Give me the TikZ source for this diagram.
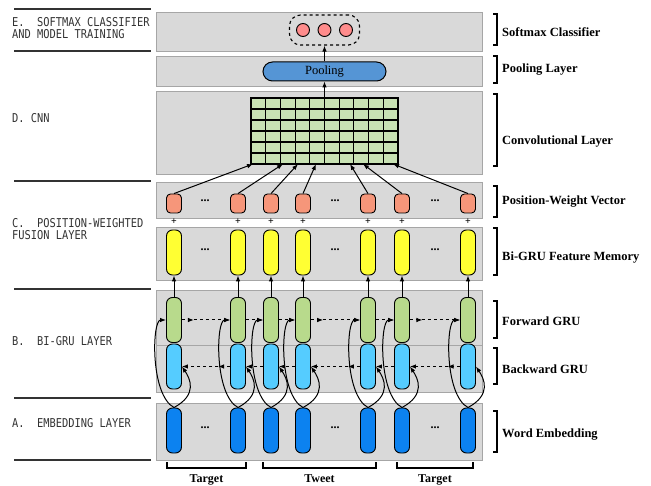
\documentclass[tikz,border=0pt]{standalone}
\usepackage{fontspec}
\setmainfont{Liberation Serif}
\newfontfamily\layerfont[FakeStretch=0.85]{DejaVu Sans Mono}
\usetikzlibrary{arrows.meta, decorations.markings}

\begin{document}
\begin{tikzpicture}[x=1pt, y=-1pt, >={Latex[length=6pt,width=4.5pt]},
    band/.style={draw=black!35, fill=bandgray, line width=0.7pt},
    cell/.style={draw, line width=0.9pt, rounded corners=6pt, minimum width=15pt, minimum height=45pt, inner sep=0pt},
    wcell/.style={draw, line width=0.9pt, rounded corners=4pt, minimum width=15pt, minimum height=19pt, inner sep=0pt},
    plus/.style={font=\bfseries\fontsize{10}{10}\selectfont, inner sep=0pt},
    gapdots/.style={font=\bfseries\fontsize{12}{12}\selectfont, inner sep=0pt},
    rlabel/.style={anchor=west, font=\bfseries\fontsize{12.5}{14}\selectfont, inner sep=0pt},
    llabel/.style={anchor=north west, align=left, text=black!80, font=\layerfont\fontsize{12.2}{12}\selectfont, inner sep=0pt},
    bracket/.style={line width=1.2pt},
    sepline/.style={line width=1.3pt, black!80},
    link/.style={->, line width=1pt},
    fwd/.style={->, dashed, line width=1pt},
    fwdgap/.style={fwd, postaction={decorate, decoration={markings, mark=at position 0.25 with {\arrow{>}}}}}]
    % Màu
    \definecolor{bandgray}{RGB}{217,217,217}
    \definecolor{softpink}{RGB}{255,140,140}
    \definecolor{poolblue}{RGB}{85,149,213}
    \definecolor{gridgreen}{RGB}{200,226,180}
    \definecolor{wsalmon}{RGB}{246,150,122}
    \definecolor{memyellow}{RGB}{255,255,51}
    \definecolor{fwdgreen}{RGB}{184,218,140}
    \definecolor{bwdblue}{RGB}{85,204,255}
    \definecolor{embblue}{RGB}{12,130,240}

    \useasboundingbox (0,0) rectangle (651,486);

    % 1. Các dải nền
    \draw[band] (156,12) rectangle (482,51);
    \draw[band] (156,56) rectangle (482,86);
    \draw[band] (156,91) rectangle (482,174);
    \draw[band] (156,182) rectangle (482,218);
    \draw[band] (156,227) rectangle (482,280);
    \draw[band] (156,290) rectangle (482,345);
    \draw[band] (156,345) rectangle (482,392);
    \draw[band] (156,403) rectangle (482,460);

    % 2. Nhãn bên trái
    \foreach \y in {9,51,181,289,398,460}
        \draw[sepline] (14,\y) -- (151,\y);
    \node[llabel] (labE) at (12,17) {E.~~SOFTMAX CLASSIFIER\\AND MODEL TRAINING};
    \node[llabel] (labD) at (12,113.5) {D.~CNN};
    \node[llabel] (labC) at (12,218.5) {C.~~POSITION-WEIGHTED\\FUSION LAYER};
    \node[llabel] (labB) at (12,336.5) {B.~~BI-GRU LAYER};
    \node[llabel] (labA) at (12,418.5) {A.~~EMBEDDING LAYER};

    % 3. Các cột
    \foreach \i/\c in {1/174,2/238,3/271,4/303,5/368,6/402,7/468} {
        \node[cell, fill=embblue] (e\i) at (\c,430.5) {};
        \node[cell, fill=bwdblue] (b\i) at (\c,366.5) {};
        \node[cell, fill=fwdgreen] (f\i) at (\c,320) {};
        \node[cell, fill=memyellow] (m\i) at (\c,252.5) {};
        \node[wcell, fill=wsalmon] (w\i) at (\c,203.5) {};
        \node[plus] (p\i) at (\c,222) {+};
    }
    \foreach \k/\x in {1/205,2/335,3/435} {
        \node[gapdots] (dw\k) at (\x,201) {...};
        \node[gapdots] (dm\k) at (\x,250) {...};
        \node[gapdots] (de\k) at (\x,428) {...};
    }

    % 4. Kết nối Bi-GRU
    \foreach \i in {1,...,7} {
        \draw[link] (e\i.north) .. controls +(-24,-13) and +(-14,0) .. (f\i.west);
        \draw[link] (e\i.north) .. controls +(24,-13) and +(8,12) .. (b\i.east);
        \draw[link] (f\i.north) -- (m\i.south);
    }
    \foreach \a/\b in {2/3,3/4,5/6} {
        \draw[fwd] (f\a.east) -- (f\b.west);
        \draw[fwd] (b\b.west) -- (b\a.east);
    }
    \foreach \a/\b in {1/2,4/5,6/7} {
        \draw[fwdgap] (f\a.east) -- (f\b.west);
        \draw[fwdgap] (b\b.west) -- (b\a.east);
    }

    % 5. CNN
    \node[draw, fill=gridgreen, line width=1.1pt, minimum width=147pt, minimum height=66pt, inner sep=0pt] (conv) at (324.5,131) {};
    \foreach \k in {1,...,9}
        \draw[line width=1.1pt] (251+\k*14.7,98) -- (251+\k*14.7,164);
    \foreach \r in {1,...,5}
        \draw[line width=1.1pt] (251,98+\r*11) -- (398,98+\r*11);
    \foreach \i/\x in {1/253,2/283,3/298,4/316,5/350,6/363,7/393} {
        \coordinate (g\i) at (\x,164);
        \draw[link] (w\i.north) -- (g\i);
    }

    % 6. Pooling và Softmax
    \node[draw, fill=poolblue, line width=1pt, rounded corners=9.5pt, minimum width=123pt, minimum height=19pt,
          inner sep=0pt, font=\fontsize{12.5}{12}\selectfont] (pool) at (324.5,71.5) {Pooling};
    \node[draw, dashed, line width=1.1pt, rounded corners=11pt, minimum width=70pt, minimum height=30pt] (soft) at (324.5,30) {};
    \foreach \i/\x in {1/303,2/324.5,3/346}
        \node[circle, draw, fill=softpink, line width=0.9pt, minimum size=13pt, inner sep=0pt] (s\i) at (\x,30) {};
    \draw[link] (conv.north) -- (pool.south);
    \draw[link] (pool.north) -- (soft.south);

    % 7. Nhãn bên phải
    \foreach \t/\b/\y/\txt [count=\n] in {14/45/32/Softmax Classifier, 56/83/70/Pooling Layer,
            94/166/142/Convolutional Layer, 186/217/202/Position-Weight Vector,
            228/275/258/Bi-GRU Feature Memory, 301/338/321/Forward GRU,
            348/384/369/Backward GRU, 411/452/435/Word Embedding} {
        \draw[bracket] (493,\t) -- (497,\t) -- (497,\b) -- (493,\b);
        \node[rlabel] (r\n) at (502,\y) {\txt};
    }

    % 8. Target / Tweet
    \foreach \l/\r/\txt [count=\n] in {167/246/Target, 263/376/Tweet, 397/473/Target} {
        \draw[bracket] (\l,462) -- (\l,468) -- (\r,468) -- (\r,462);
        \node[anchor=base, font=\bfseries\fontsize{12}{13}\selectfont, inner sep=0pt] (t\n) at ({(\l+\r)/2},482.5) {\txt};
    }
\end{tikzpicture}
\end{document}
